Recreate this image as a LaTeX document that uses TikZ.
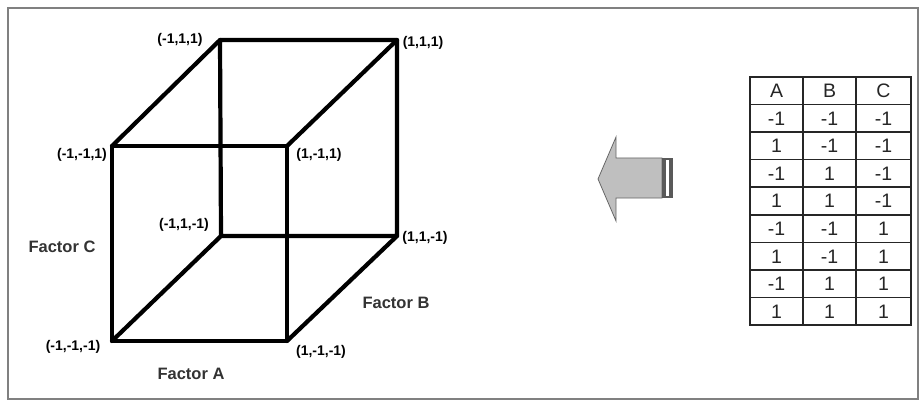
\documentclass[tikz,border=0pt]{standalone}
\usepackage{fontspec}
\setmainfont{Liberation Sans}
\begin{document}
\begin{tikzpicture}[x=1pt,y=-1pt,
  edge/.style={line width=4.2pt,line cap=round,line join=round},
  coordlbl/.style={font=\fontsize{14}{14}\bfseries\selectfont,inner sep=0pt,text=black},
  factorlbl/.style={font=\fontsize{16.5}{17}\bfseries\selectfont,inner sep=0pt,text=black!80},
  cell/.style={font=\fontsize{19.5}{20}\selectfont,inner sep=0pt,text=black!85}
]
\useasboundingbox (0,0) rectangle (921,401);
\fill[white] (0,0) rectangle (921,401);
\draw[black!50,line width=2pt] (8,8) rectangle (918,399);

% cube vertices
\coordinate (btl) at (220,40);
\coordinate (btr) at (397,40);
\coordinate (bbl) at (221,236);
\coordinate (bbr) at (397,236);
\coordinate (ftl) at (112,146);
\coordinate (ftr) at (287,146);
\coordinate (fbl) at (112,341);
\coordinate (fbr) at (287,341);

\draw[edge] (btl) -- (btr) -- (bbr) -- (bbl) -- cycle;
\draw[edge] (ftl) -- (ftr) -- (fbr) -- (fbl) -- cycle;
\draw[edge] (btl) -- (ftl);
\draw[edge] (btr) -- (ftr);
\draw[edge] (bbl) -- (fbl);
\draw[edge] (bbr) -- (fbr);

\node[coordlbl] (l1) at (180,40) {(-1,1,1)};
\node[coordlbl] (l2) at (423,43) {(1,1,1)};
\node[coordlbl] (l3) at (82,155) {(-1,-1,1)};
\node[coordlbl] (l4) at (319,155) {(1,-1,1)};
\node[coordlbl] (l5) at (184,225) {(-1,1,-1)};
\node[coordlbl] (l6) at (425,238) {(1,1,-1)};
\node[coordlbl] (l7) at (73,347) {(-1,-1,-1)};
\node[coordlbl] (l8) at (321,352) {(1,-1,-1)};
\node[factorlbl] (fc) at (62,247) {Factor C};
\node[factorlbl] (fb) at (396,303) {Factor B};
\node[factorlbl] (fa) at (191,374) {Factor A};

% arrow
\draw[fill=black!25,draw=black!60,line width=0.8pt,line join=miter]
  (598,179) -- (616,137) -- (616,158) -- (662,158) -- (662,198) -- (616,198) -- (616,221) -- cycle;
\fill[black!65] (662,158) rectangle (673,198);
\fill[white] (666,160) rectangle (668.5,196);

% table
\draw[black!85,line width=1.6pt] (750,77) rectangle (911,325);
\foreach \xx in {803,856} \draw[black!85,line width=1.6pt] (\xx,77) -- (\xx,325);
\foreach \i in {1,...,8} \draw[black!85,line width=1.6pt] (750,77+\i*27.556) -- (911,77+\i*27.556);
\foreach \c/\xx in {A/776.5,B/829.5,C/883.5}
  \node[cell] at (\xx,91) {\c};
\foreach \a/\b/\c [count=\r] in {-1/-1/-1,1/-1/-1,-1/1/-1,1/1/-1,-1/-1/1,1/-1/1,-1/1/1,1/1/1}
{
  \node[cell] at (776.5,91+\r*27.556) {\a};
  \node[cell] at (829.5,91+\r*27.556) {\b};
  \node[cell] at (883.5,91+\r*27.556) {\c};
}
\end{tikzpicture}
\end{document}
